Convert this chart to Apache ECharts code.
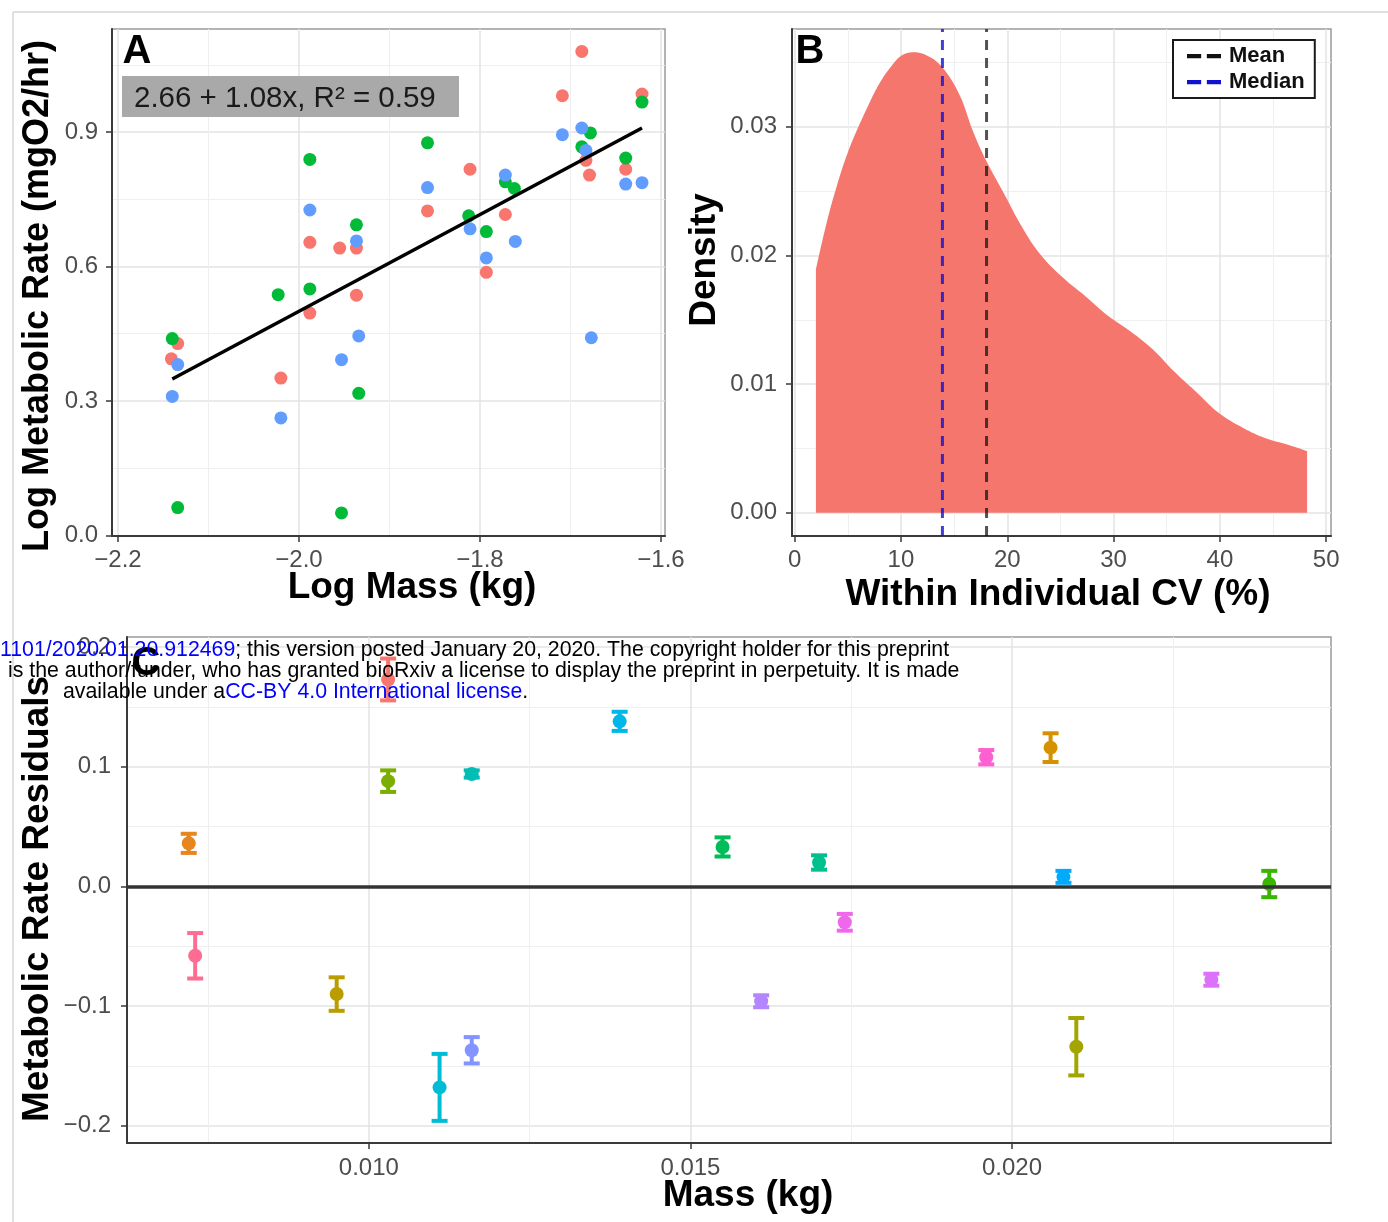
<!DOCTYPE html>
<html>
<head>
<meta charset="utf-8">
<script src="https://cdn.jsdelivr.net/npm/echarts@6/dist/echarts.min.js"></script>
<style>
  html, body { margin: 0; padding: 0; background: #fff; }
  #chart { width: 1388px; height: 1222px; }
</style>
</head>
<body>
<div id="chart"></div>
<script>
// panel A: log mass vs log metabolic rate, one array pair per trial colour
const massA1 = [-1.6875, -1.709, -1.621, -1.683, -1.679, -1.639, -1.858, -1.811, -1.772, -1.793, -1.988, -1.9365, -1.955, -1.9365, -1.988, -2.134, -2.141, -2.020];
const rateA1 = [1.080, 0.981, 0.985, 0.837, 0.804, 0.817, 0.724, 0.817, 0.716, 0.587, 0.654, 0.641, 0.641, 0.536, 0.496, 0.428, 0.394, 0.351];
const massA2 = [-1.621, -1.678, -1.6875, -1.639, -1.858, -1.772, -1.762, -1.8125, -1.793, -1.988, -1.9365, -2.023, -1.988, -2.140, -1.934, -2.134, -1.953];
const rateA2 = [0.967, 0.898, 0.867, 0.842, 0.876, 0.789, 0.774, 0.713, 0.678, 0.839, 0.693, 0.537, 0.550, 0.439, 0.317, 0.062, 0.050];
const massA3 = [-1.709, -1.6875, -1.683, -1.639, -1.621, -1.858, -1.772, -1.761, -1.811, -1.793, -1.988, -1.9365, -1.934, -1.677, -2.134, -1.953, -2.140, -2.020];
const rateA3 = [0.894, 0.909, 0.859, 0.784, 0.787, 0.776, 0.804, 0.656, 0.684, 0.619, 0.726, 0.657, 0.445, 0.441, 0.381, 0.392, 0.310, 0.262];
const fitMassA = [-2.14, -1.621];
const fitRateA = [0.349, 0.909];
const colorsA = ["#F8766D", "#00BA38", "#619CFF"];

// panel B: density of within individual CV
const cvB = [2.0, 3.0, 4.0, 5.0, 6.0, 7.0, 8.0, 9.0, 10.0, 11.1, 12.3, 13.8, 15.5, 16.8, 18.0, 19.7, 21.4, 23.1, 25.2, 27.4, 29.5, 31.6, 33.7, 35.8, 37.9, 40.0, 42.2, 44.3, 46.4, 48.2];
const densB = [0.0189, 0.0225, 0.0255, 0.0280, 0.0300, 0.0318, 0.0334, 0.0346, 0.0355, 0.0358, 0.0356, 0.0347, 0.0325, 0.0296, 0.0274, 0.0248, 0.0222, 0.0201, 0.0183, 0.0168, 0.0153, 0.0141, 0.0127, 0.0109, 0.0093, 0.0077, 0.0066, 0.0058, 0.0053, 0.0048];
const meanCV = 18.05;
const medianCV = 13.9;

// panel C: residuals by individual
const massC = [0.0072, 0.0103, 0.0103, 0.0116, 0.0139, 0.0196, 0.0206, 0.0155, 0.0170, 0.0208, 0.0240, 0.0174, 0.0073, 0.0095, 0.0111, 0.0116, 0.0161, 0.0210, 0.0231];
const residC = [0.036, 0.173, 0.088, 0.094, 0.138, 0.108, 0.116, 0.033, 0.020, 0.008, 0.002, -0.030, -0.058, -0.090, -0.168, -0.137, -0.096, -0.134, -0.078];
const seC = [0.008, 0.0175, 0.009, 0.003, 0.008, 0.006, 0.012, 0.008, 0.006, 0.005, 0.011, 0.007, 0.019, 0.014, 0.028, 0.011, 0.005, 0.024, 0.005];
const colorsC = ["#E7851E", "#F8766D", "#7CAE00", "#00BDB5", "#00B8E7", "#FD61D1", "#D69100", "#00BC59", "#00C08E", "#00ABFD", "#39B600", "#EF67EB", "#FF6C91", "#BB9D00", "#00BCD4", "#8494FF", "#B385FF", "#A3A500", "#DC71FA"];

// tick labels
const ticksAx = [-2.2, -2.0, -1.8, -1.6], minorAx = [-2.1, -1.9, -1.7];
const ticksAy = [0.0, 0.3, 0.6, 0.9], minorAy = [0.15, 0.45, 0.75, 1.05];
const ticksBx = [0, 10, 20, 30, 40, 50], minorBx = [5, 15, 25, 35, 45];
const ticksBy = [0.00, 0.01, 0.02, 0.03], minorBy = [0.005, 0.015, 0.025, 0.035];
const ticksCx = [0.010, 0.015, 0.020], minorCx = [0.0075, 0.0125, 0.0175, 0.0225];
const ticksCy = [-0.2, -0.1, 0.0, 0.1, 0.2], minorCy = [-0.15, -0.05, 0.05, 0.15];

const FONT = '"Liberation Sans", Arial, sans-serif';
const minus = (s) => s.replace("-", "\u2212");

function axisPair(grid, pos, min, max, major, minor, fmt, margin) {
  return [
    {
      type: "value", gridIndex: grid, position: pos, min: min, max: max,
      axisLine: { show: true, onZero: false, lineStyle: { color: "#3a3a3a", width: 2 } },
      axisTick: { show: true, length: 6, customValues: major, lineStyle: { color: "#3a3a3a", width: 1.5 } },
      axisLabel: { customValues: major, formatter: fmt, margin: margin, color: "#4d4d4d", fontSize: 24, fontFamily: FONT },
      splitLine: { show: true, lineStyle: { color: "#e3e3e3", width: 1.5 } },
    },
    {
      type: "value", gridIndex: grid, position: pos, min: min, max: max,
      axisLine: { show: false },
      axisTick: { show: false, customValues: minor },
      axisLabel: { show: false, customValues: minor },
      splitLine: { show: true, lineStyle: { color: "#efefef", width: 1 } },
    },
  ];
}

const xA = axisPair(0, "bottom", -2.2066, -1.5956, ticksAx, minorAx, (v) => minus(v.toFixed(1)), 12);
const yA = axisPair(0, "left", -0.0015, 1.13, ticksAy, minorAy, (v) => v.toFixed(1), 14);
const xB = axisPair(1, "bottom", -0.25, 50.45, ticksBx, minorBx, (v) => String(Math.round(v)), 12);
const yB = axisPair(1, "left", -0.0018, 0.0376, ticksBy, minorBy, (v) => v.toFixed(2), 15);
const xC = axisPair(2, "bottom", 0.00624, 0.02496, ticksCx, minorCx, (v) => v.toFixed(3), 13);
const yC = axisPair(2, "left", -0.2145, 0.2085, ticksCy, minorCy, (v) => minus(v.toFixed(1)), 16);

const zip = (a, b) => a.map((v, i) => [v, b[i]]);

function textEl(x, y, text, size, rot, extra) {
  return Object.assign({
    type: "text", x: x, y: y, rotation: rot || 0, z: 50,
    style: {
      text: text, fill: "#000", font: "bold " + size + 'px "Liberation Sans", Arial, sans-serif',
      align: "center", verticalAlign: "middle", textAlign: "center", textVerticalAlign: "middle",
    },
  }, extra || {});
}

const gridStyle = { show: true, borderColor: "#9a9a9a", borderWidth: 1.5, backgroundColor: "#fff" };
const dashIcon = "path://M0,0H10V3H0Z M14,0H24V3H14Z";
const wmRich = {
  b: { fill: "#0000ff", color: "#0000ff", fontSize: 21.3, fontFamily: FONT },
  k: { fill: "#000", color: "#000", fontSize: 21.3, fontFamily: FONT },
};

const option = {
  animation: false,
  backgroundColor: "#fff",
  textStyle: { fontFamily: FONT },
  grid: [
    Object.assign({ left: 112, top: 29, width: 553, height: 507 }, gridStyle),
    Object.assign({ left: 792, top: 29, width: 539, height: 507 }, gridStyle),
    Object.assign({ left: 127, top: 637, width: 1204, height: 506 }, gridStyle),
  ],
  xAxis: [xA[0], xA[1], xB[0], xB[1], xC[0], xC[1]],
  yAxis: [yA[0], yA[1], yB[0], yB[1], yC[0], yC[1]],
  legend: {
    left: 1173, top: 40,
    orient: "vertical",
    data: [{ name: "Mean", icon: dashIcon }, { name: "Median", icon: dashIcon }],
    backgroundColor: "#fff",
    borderColor: "#1a1a1a", borderWidth: 2,
    padding: [5, 10, 5, 14],
    itemWidth: 34, itemHeight: 5, itemGap: 4,
    textStyle: { fontWeight: "bold", fontSize: 22, color: "#111", fontFamily: FONT, padding: [0, 0, 0, 3] },
  },
  series: [
    // A
    { type: "scatter", xAxisIndex: 0, yAxisIndex: 0, symbolSize: 13, itemStyle: { color: colorsA[0], opacity: 1 }, data: zip(massA1, rateA1) },
    { type: "scatter", xAxisIndex: 0, yAxisIndex: 0, symbolSize: 13, itemStyle: { color: colorsA[1], opacity: 1 }, data: zip(massA2, rateA2) },
    { type: "scatter", xAxisIndex: 0, yAxisIndex: 0, symbolSize: 13, itemStyle: { color: colorsA[2], opacity: 1 }, data: zip(massA3, rateA3) },
    { type: "line", xAxisIndex: 0, yAxisIndex: 0, symbol: "none", z: 5, lineStyle: { color: "#000", width: 3.5 }, data: zip(fitMassA, fitRateA) },
    // B
    { type: "line", xAxisIndex: 2, yAxisIndex: 2, symbol: "none", z: 1, smooth: 0.4,
      lineStyle: { width: 0 }, areaStyle: { color: "#F5766D", opacity: 1 }, data: zip(cvB, densB) },
    { name: "Mean", type: "line", xAxisIndex: 2, yAxisIndex: 2, symbol: "none", z: 3, lineStyle: { color: "#111", width: 3, type: [10, 8], opacity: 0.72 }, itemStyle: { color: "#111" }, data: [[meanCV, -0.0018], [meanCV, 0.0376]] },
    { name: "Median", type: "line", xAxisIndex: 2, yAxisIndex: 2, symbol: "none", z: 3, lineStyle: { color: "#1010d0", width: 3, type: [10, 8], opacity: 0.8 }, itemStyle: { color: "#1010d0" }, data: [[medianCV, -0.0018], [medianCV, 0.0376]] },
    // C
    { type: "line", xAxisIndex: 4, yAxisIndex: 4, data: [], z: 1,
      markLine: { silent: true, symbol: "none", label: { show: false }, lineStyle: { color: "#333", width: 3.5, type: "solid" }, data: [{ yAxis: 0 }] } },
    { type: "custom", xAxisIndex: 4, yAxisIndex: 4, z: 3,
      data: massC.map((m, i) => [m, residC[i], seC[i]]),
      renderItem: function (params, api) {
        const x = api.value(0), y = api.value(1), e = api.value(2);
        const top = api.coord([x, y + e]);
        const bot = api.coord([x, y - e]);
        const st = { stroke: colorsC[params.dataIndex], lineWidth: 4 };
        return {
          type: "group",
          children: [
            { type: "line", shape: { x1: top[0], y1: top[1], x2: bot[0], y2: bot[1] }, style: st },
            { type: "line", shape: { x1: top[0] - 8, y1: top[1], x2: top[0] + 8, y2: top[1] }, style: st },
            { type: "line", shape: { x1: bot[0] - 8, y1: bot[1], x2: bot[0] + 8, y2: bot[1] }, style: st },
          ],
        };
      },
    },
    { type: "scatter", xAxisIndex: 4, yAxisIndex: 4, symbolSize: 14, z: 4,
      data: massC.map((m, i) => ({ value: [m, residC[i]], itemStyle: { color: colorsC[i], opacity: 1 } })) },
  ],
  graphic: [
    // outer frame
    { type: "line", z: 0, shape: { x1: 13, y1: 12, x2: 1388, y2: 12 }, style: { stroke: "#d6d6d6", lineWidth: 1.5 } },
    { type: "line", z: 0, shape: { x1: 13, y1: 12, x2: 13, y2: 1222 }, style: { stroke: "#d6d6d6", lineWidth: 1.5 } },
    // panel letters
    textEl(137, 52, "A", 40),
    textEl(810, 52, "B", 40),
    textEl(146, 664, "C", 40),
    // equation label
    { type: "rect", z: 40, shape: { x: 122, y: 76, width: 337, height: 41 }, style: { fill: "#a9a9a9" } },
    { type: "text", z: 41, x: 134, y: 99, style: { text: "2.66 + 1.08x, R\u00b2 = 0.59", fill: "#1a1a1a", font: '29.5px "Liberation Sans", Arial, sans-serif', verticalAlign: "middle", textVerticalAlign: "middle" } },
    // axis titles
    textEl(412, 588, "Log Mass (kg)", 37),
    textEl(38, 296, "Log Metabolic Rate (mgO2/hr)", 36, Math.PI / 2),
    textEl(705, 260, "Density", 37, Math.PI / 2),
    textEl(1058, 595, "Within Individual CV (%)", 37),
    textEl(38, 899, "Metabolic Rate Residuals", 37, Math.PI / 2),
    textEl(748, 1196, "Mass (kg)", 37),
    // bioRxiv watermark
    { type: "text", z: 100, x: 0, y: 650, style: {
        text: "{b|1101/2020.01.20.912469}{k|; this version posted January 20, 2020. The copyright holder for this preprint}",
        verticalAlign: "middle", textVerticalAlign: "middle", rich: wmRich } },
    { type: "text", z: 100, x: 8, y: 671, style: {
        text: "{k|is the author/funder, who has granted bioRxiv a license to display the preprint in perpetuity. It is made}",
        verticalAlign: "middle", textVerticalAlign: "middle", rich: wmRich } },
    { type: "text", z: 100, x: 63, y: 692, style: {
        text: "{k|available under a}{b|CC-BY 4.0 International license}{k|.}",
        verticalAlign: "middle", textVerticalAlign: "middle", rich: wmRich } },
  ],
};

const chart = echarts.init(document.getElementById("chart"));
chart.setOption(option);
</script>
</body>
</html>
